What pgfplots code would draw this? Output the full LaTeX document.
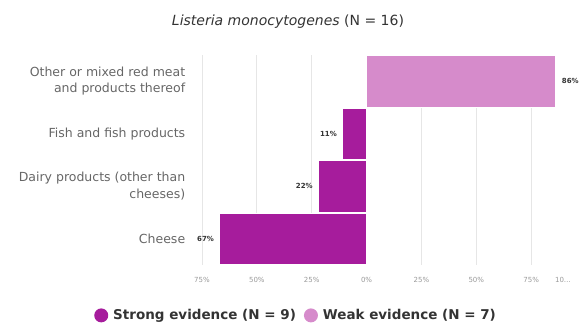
\documentclass[border=0pt]{standalone}
\usepackage{fontspec}
\setmainfont{DejaVu Sans}
\usepackage{pgfplots}
\pgfplotsset{compat=1.18}
\definecolor{strong}{HTML}{A61C9C}
\definecolor{weak}{HTML}{D68BCB}
\definecolor{labelgray}{HTML}{666666}
\definecolor{tickgray}{HTML}{999999}
\definecolor{gridgray}{HTML}{E6E6E6}
\definecolor{darktext}{HTML}{333333}

\begin{document}
\begin{tikzpicture}[x=1pt,y=1pt]
\begin{axis}[
    at={(202pt,61pt)}, anchor=south west,
    scale only axis,
    width=384pt, height=210pt,
    xbar, bar width=0.98, bar shift=0pt,
    xmin=-75, xmax=100,
    ymin=-0.5, ymax=3.5,
    axis line style={draw=none},
    major tick style={draw=none},
    xmajorgrids, grid style={draw=gridgray, line width=0.8pt},
    xtick={-75,-50,-25,0,25,50,75,100},
    xticklabels={75\%,50\%,25\%,0\%,25\%,50\%,75\%,\makebox[0pt][r]{10…\hspace{15pt}}},
    xticklabel style={font=\fontsize{7}{9}\selectfont, text=tickgray, yshift=-9pt},
    ytick={0,1,2,3},
    yticklabels={Cheese,{Dairy products (other than\\cheeses)},Fish and fish products,{Other or mixed red meat\\and products thereof}},
    yticklabel style={align=right, font=\fontsize{12.5}{16.5}\selectfont, text=labelgray, xshift=-9pt},
    /pgf/number format/assume math mode=true,
    nodes near coords={\pgfmathprintnumber{\pgfplotspointmeta}\%},
    point meta=explicit,
    every node near coord/.append style={font=\bfseries\fontsize{7}{9}\selectfont, text=darktext},
    legend style={at={(0.245,-0.24)}, anchor=center, draw=none, fill=none,
        legend columns=2, font=\bfseries\fontsize{13.5}{16}\selectfont, text=darktext,
        /tikz/every odd column/.append style={column sep=3pt},
        /tikz/every even column/.append style={column sep=6pt}},
    legend image code/.code={\fill[#1, draw=none] (0pt,0pt) circle (7pt);},
]
\addplot[fill=strong, draw=white, line width=0.6pt,
    every node near coord/.append style={anchor=east, xshift=-2pt}]
    coordinates {(-67,0) [67] (-22,1) [22] (-11,2) [11]};
\addlegendentry{Strong evidence (N = 9)}
\addplot[fill=weak, draw=white, line width=0.6pt,
    every node near coord/.append style={anchor=west, xshift=3pt}]
    coordinates {(86,3) [86]};
\addlegendentry{Weak evidence (N = 7)}
\end{axis}
\node[text=darktext, font=\fontsize{14}{17}\selectfont] at (288pt,304pt)
    {\textit{Listeria monocytogenes} (N = 16)};
\pgfresetboundingbox
\path (0,0) rectangle (581pt,326pt);
\end{tikzpicture}
\end{document}
